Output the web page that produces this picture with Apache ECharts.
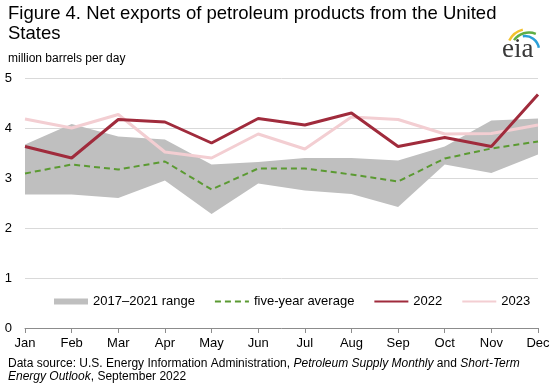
<!DOCTYPE html>
<html>
<head>
<meta charset="utf-8">
<script src="https://cdn.jsdelivr.net/npm/echarts@6/dist/echarts.min.js"></script>
<style>html,body{margin:0;padding:0;background:#fff;}#c{width:553px;height:388px;}</style>
</head>
<body>
<div id="c"></div>
<script>
var months = ['Jan','Feb','Mar','Apr','May','Jun','Jul','Aug','Sep','Oct','Nov','Dec'];
var rangeLow  = [2.67, 2.67, 2.60, 2.95, 2.28, 2.89, 2.75, 2.68, 2.42, 3.27, 3.10, 3.47];
var rangeHigh = [3.67, 4.08, 3.83, 3.77, 3.27, 3.32, 3.40, 3.40, 3.35, 3.63, 4.15, 4.19];
var fiveYearAvg = [3.09, 3.27, 3.17, 3.33, 2.77, 3.19, 3.19, 3.07, 2.93, 3.39, 3.59, 3.73];
var y2022 = [3.63, 3.40, 4.17, 4.12, 3.70, 4.19, 4.06, 4.30, 3.63, 3.81, 3.63, 4.67];
var y2023 = [4.18, 4.00, 4.27, 3.52, 3.40, 3.88, 3.58, 4.22, 4.17, 3.88, 3.89, 4.06];
var yTicks = [0, 1, 2, 3, 4, 5];

var rangeSpan = rangeHigh.map(function (h, i) { return +(h - rangeLow[i]).toFixed(2); });
var FONT = 'Liberation Sans, Arial, sans-serif';

var chart = echarts.init(document.getElementById('c'));
chart.setOption({
  animation: false,
  backgroundColor: '#fff',
  textStyle: { fontFamily: FONT },
  grid: { left: 25, right: 15, top: 78, bottom: 60, containLabel: false, outerBoundsMode: 'none' },
  legend: {
    left: 49, top: 290,
    itemWidth: 34, itemHeight: 6, itemGap: 19,
    textStyle: { fontFamily: FONT, fontSize: 13, color: '#000' },
    data: [
      { name: '2017\u20132021 range', icon: 'rect', itemStyle: { color: '#bfbfbf' } },
      { name: 'five-year average', itemStyle: { opacity: 0 } },
      { name: '2022', itemStyle: { opacity: 0 } },
      { name: '2023', itemStyle: { opacity: 0 } }
    ]
  },
  xAxis: {
    type: 'category', data: months, boundaryGap: false,
    axisLine: { lineStyle: { color: '#8c8c8c', width: 1 } },
    axisTick: { show: true, length: 5, lineStyle: { color: '#8c8c8c' } },
    axisLabel: { color: '#000', fontSize: 13, margin: 9, fontFamily: FONT },
    splitLine: { show: false }
  },
  yAxis: {
    type: 'value', min: yTicks[0], max: yTicks[yTicks.length - 1], interval: 1,
    axisLine: { show: false }, axisTick: { show: false },
    axisLabel: { color: '#000', fontSize: 13, margin: 13, fontFamily: FONT },
    splitLine: { lineStyle: { color: '#d9d9d9', width: 1 } }
  },
  series: [
    { name: 'rangeBase', type: 'line', stack: 'range', data: rangeLow, symbol: 'none',
      lineStyle: { width: 0, opacity: 0 }, silent: true, z: 1 },
    { name: '2017\u20132021 range', type: 'line', stack: 'range', data: rangeSpan, symbol: 'none',
      lineStyle: { width: 0, opacity: 0 }, itemStyle: { color: '#bfbfbf' },
      areaStyle: { color: '#bfbfbf', opacity: 1 }, z: 1 },
    { name: 'five-year average', type: 'line', data: fiveYearAvg, symbol: 'none',
      itemStyle: { color: '#5b9a32' },
      lineStyle: { color: '#5b9a32', width: 2, type: [6, 4] }, z: 3 },
    { name: '2023', type: 'line', data: y2023, symbol: 'none',
      itemStyle: { color: '#f3ced2' },
      lineStyle: { color: '#f3ced2', width: 3 }, z: 4 },
    { name: '2022', type: 'line', data: y2022, symbol: 'none',
      itemStyle: { color: '#a02b3c' },
      lineStyle: { color: '#a02b3c', width: 3 }, z: 5 }
  ],
  graphic: [
    { type: 'text', left: 8, top: 4, style: {
      text: 'Figure 4. Net exports of petroleum products from the United\nStates',
      font: '18.5px ' + FONT, lineHeight: 20, fill: '#000' } },
    { type: 'text', left: 8, top: 53, style: {
      text: 'million barrels per day', font: '12px ' + FONT, fill: '#000' } },
    { type: 'text', left: 8, top: 357, style: {
      text: 'Data source: U.S. Energy Information Administration, {i|Petroleum Supply Monthly} and {i|Short-Term}\n{i|Energy Outlook}, September 2022',
      font: '12px ' + FONT, lineHeight: 13, fill: '#000',
      rich: { i: { fontStyle: 'italic', fontFamily: FONT, fontSize: 12, lineHeight: 13 } } } },
    { type: 'text', left: 502, top: 36, style: {
      text: 'eia', font: '27px Liberation Serif, DejaVu Serif, serif', fill: '#3a3a3a' } },
    { type: 'arc', shape: { cx: 528, cy: 50, r: 21, startAngle: Math.PI * 1.15, endAngle: Math.PI * 1.42 },
      style: { stroke: '#f2c12e', lineWidth: 2.5, fill: null } },
    { type: 'arc', shape: { cx: 529, cy: 51, r: 18.5, startAngle: Math.PI * 1.2, endAngle: Math.PI * 1.62 },
      style: { stroke: '#5fae45', lineWidth: 2.5, fill: null } },
    { type: 'arc', shape: { cx: 525, cy: 50, r: 14, startAngle: Math.PI * 1.45, endAngle: Math.PI * 1.95 },
      style: { stroke: '#2b9fd8', lineWidth: 2.5, fill: null } }
  ]
});
</script>
</body>
</html>
